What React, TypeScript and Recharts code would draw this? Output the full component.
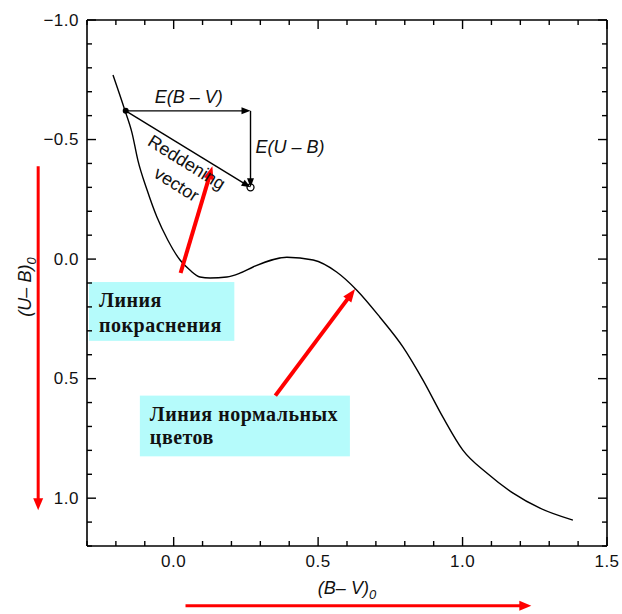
import React from "react";
import { ComposedChart, Line, XAxis, YAxis, ReferenceLine, ReferenceArea, ReferenceDot } from "recharts";

// normal colour line, (B-V)0 vs (U-B)0
const curveBV = [-0.21, -0.169, -0.144, -0.124, -0.092, -0.058, -0.02, 0.022, 0.056, 0.091, 0.126, 0.184, 0.229, 0.275, 0.392, 0.483, 0.564, 0.634, 0.714, 0.794, 0.863, 0.932, 1.001, 1.084, 1.175, 1.268, 1.382];
const curveUB = [-0.77, -0.623, -0.527, -0.414, -0.289, -0.176, -0.079, 0.004, 0.046, 0.075, 0.079, 0.075, 0.059, 0.033, -0.008, 0.004, 0.054, 0.13, 0.243, 0.368, 0.506, 0.661, 0.799, 0.895, 0.979, 1.042, 1.092];

const xTicks = [-0.3, -0.2, -0.1, 0.0, 0.1, 0.2, 0.3, 0.4, 0.5, 0.6, 0.7, 0.8, 0.9, 1.0, 1.1, 1.2, 1.3, 1.4, 1.5];
const xTickLabels = [0.0, 0.5, 1.0, 1.5];
const yTicks = [-1.0, -0.9, -0.8, -0.7, -0.6, -0.5, -0.4, -0.3, -0.2, -0.1, 0.0, 0.1, 0.2, 0.3, 0.4, 0.5, 0.6, 0.7, 0.8, 0.9, 1.0, 1.1, 1.2];
const yTickLabels = [-1.0, -0.5, 0.0, 0.5, 1.0];

// reddening vector: start, corner, end
const vectorBV = [-0.166, 0.266, 0.266];
const vectorUB = [-0.62, -0.62, -0.3];

// red pointers [fromBV, fromUB, toBV, toUB]
const pointerReddening = [0.024, 0.058, 0.134, -0.388];
const pointerNormal = [0.352, 0.571, 0.628, 0.125];
const arrowUB = [-0.469, -0.388, -0.469, 1.05];
const arrowBV = [0.041, 1.45, 1.238, 1.45];

const boxReddening = [-0.293, 0.21, 0.096, 0.342];
const boxNormal = [-0.117, 0.61, 0.571, 0.825];
const reddeningLines = ["Линия", "покраснения"];
const normalLines = ["Линия нормальных", "цветов"];

const data = curveBV.map((bv, i) => ({ bv, ub: curveUB[i] }));

const W = 622;
const H = 614;
const margin = { top: 20, right: 15, bottom: 28, left: 27 };
const plotTop = margin.top;
const plotRight = W - margin.right;

const sans = "'Liberation Sans', Arial, sans-serif";
const serif = "'Liberation Serif', 'Times New Roman', serif";

const isMajor = (v: number) => Math.abs(v * 2 - Math.round(v * 2)) < 1e-6;
const fmt = (v: number) => (v < -1e-9 ? "\u2212" + Math.abs(v).toFixed(1) : Math.abs(v).toFixed(1));

// bottom axis tick, plus the mirrored tick on the top frame
const BottomTick = (p: any) => {
  const v = p.payload.value;
  const len = isMajor(v) ? 9 : 5;
  return (
    <g>
      <line x1={p.x} y1={p.y} x2={p.x} y2={p.y - len} stroke="#000" strokeWidth={1.4} />
      <line x1={p.x} y1={plotTop} x2={p.x} y2={plotTop + len} stroke="#000" strokeWidth={1.4} />
      {xTickLabels.some((l) => Math.abs(l - v) < 1e-6) && (
        <text x={p.x} y={p.y + 15} textAnchor="middle" dominantBaseline="central" fontFamily={sans} fontSize={17} letterSpacing={0.5} fill="#111">
          {fmt(v)}
        </text>
      )}
    </g>
  );
};

// left axis tick, plus the mirrored tick on the right frame
const LeftTick = (p: any) => {
  const v = p.payload.value;
  const len = isMajor(v) ? 9 : 5;
  return (
    <g>
      <line x1={p.x} y1={p.y} x2={p.x + len} y2={p.y} stroke="#000" strokeWidth={1.4} />
      <line x1={plotRight} y1={p.y} x2={plotRight - len} y2={p.y} stroke="#000" strokeWidth={1.4} />
      {yTickLabels.some((l) => Math.abs(l - v) < 1e-6) && (
        <text x={p.x - 8} y={p.y} textAnchor="end" dominantBaseline="central" fontFamily={sans} fontSize={17} letterSpacing={0.5} fill="#111">
          {fmt(v)}
        </text>
      )}
    </g>
  );
};

const arrow = (color: string, width: number, headLen: number, headHalf: number) => (p: any) => {
  const { x1, y1, x2, y2 } = p;
  const dx = x2 - x1;
  const dy = y2 - y1;
  const d = Math.hypot(dx, dy) || 1;
  const ux = dx / d;
  const uy = dy / d;
  const bx = x2 - ux * headLen;
  const by = y2 - uy * headLen;
  const pts = `${x2},${y2} ${bx - uy * headHalf},${by + ux * headHalf} ${bx + uy * headHalf},${by - ux * headHalf}`;
  return (
    <g>
      <line x1={x1} y1={y1} x2={bx + ux} y2={by + uy} stroke={color} strokeWidth={width} />
      <polygon points={pts} fill={color} />
    </g>
  );
};

const textBox = (lines: string[], gap: number) => (p: any) => (
  <g>
    <rect x={p.x} y={p.y} width={p.width} height={p.height} fill="#b5fbfb" />
    {lines.map((t, i) => (
      <text key={i} x={p.x + 10} y={p.y + 25 + i * gap} fontFamily={serif} fontWeight="bold" fontSize={20} letterSpacing={0.5} fill="#111">
        {t}
      </text>
    ))}
  </g>
);

const annot = (text: string, anchor: string, angle = 0, italic = true) => (p: any) => (
  <text
    x={p.cx}
    y={p.cy}
    textAnchor={anchor}
    dominantBaseline="central"
    fontFamily={sans}
    fontSize={18}
    fontStyle={italic ? "italic" : "normal"}
    fill="#111"
    transform={angle ? `rotate(${angle}, ${p.cx}, ${p.cy})` : undefined}
  >
    {text}
  </text>
);

const XLabel = (p: any) => {
  const { x, y, width } = p.viewBox;
  return (
    <text x={x + width / 2} y={y + 42} textAnchor="middle" dominantBaseline="central" fontFamily={sans} fontSize={18} fontStyle="italic" fill="#111">
      (B{"\u2013"} V)<tspan fontSize={13} dy={6}>0</tspan>
    </text>
  );
};

const YLabel = (p: any) => {
  const { x, y, height } = p.viewBox;
  const cx = x - 2;
  const cy = y + height / 2 + 4;
  return (
    <text x={cx} y={cy} textAnchor="middle" dominantBaseline="central" fontFamily={sans} fontSize={18} fontStyle="italic" fill="#111" transform={`rotate(-90, ${cx}, ${cy})`}>
      (U{"\u2013"} B)<tspan fontSize={13} dy={6}>0</tspan>
    </text>
  );
};

export default function App() {
  return (
    <div style={{ position: "absolute", left: 0, top: 0, width: W, height: H, background: "#fff" }}>
      <ComposedChart width={W} height={H} data={data} margin={margin}>
        <XAxis
          dataKey="bv"
          type="number"
          domain={[-0.3, 1.5]}
          allowDataOverflow
          ticks={xTicks}
          interval={0}
          height={40}
          tickLine={false}
          tickSize={0}
          tickMargin={0}
          tick={<BottomTick />}
          axisLine={{ stroke: "#000", strokeWidth: 1.6 }}
          label={{ content: XLabel }}
        />
        <YAxis
          type="number"
          domain={[-1.0, 1.2]}
          reversed
          allowDataOverflow
          ticks={yTicks}
          interval={0}
          width={60}
          tickLine={false}
          tickSize={0}
          tickMargin={0}
          tick={<LeftTick />}
          axisLine={{ stroke: "#000", strokeWidth: 1.6 }}
          label={{ content: YLabel }}
        />

        {/* top and right sides of the frame */}
        <ReferenceLine y={-1.0} stroke="#000" strokeWidth={1.6} ifOverflow="visible" />
        <ReferenceLine x={1.5} stroke="#000" strokeWidth={1.6} ifOverflow="visible" />

        <ReferenceArea
          x1={boxReddening[0]}
          x2={boxReddening[1]}
          y1={boxReddening[2]}
          y2={boxReddening[3]}
          ifOverflow="visible"
          shape={textBox(reddeningLines, 25)}
        />
        <ReferenceArea
          x1={boxNormal[0]}
          x2={boxNormal[1]}
          y1={boxNormal[2]}
          y2={boxNormal[3]}
          ifOverflow="visible"
          shape={textBox(normalLines, 23)}
        />

        <Line data={data} dataKey="ub" type="monotone" dot={false} stroke="#000" strokeWidth={1.4} isAnimationActive={false} />

        <ReferenceLine
          segment={[{ x: vectorBV[0], y: vectorUB[0] }, { x: vectorBV[1], y: vectorUB[1] }]}
          ifOverflow="visible"
          shape={arrow("#000", 1.4, 9, 3.5)}
        />
        <ReferenceLine
          segment={[{ x: vectorBV[1], y: vectorUB[1] }, { x: vectorBV[2], y: vectorUB[2] }]}
          ifOverflow="visible"
          shape={arrow("#000", 1.4, 9, 3.5)}
        />
        <ReferenceLine
          segment={[{ x: vectorBV[0], y: vectorUB[0] }, { x: vectorBV[2], y: vectorUB[2] }]}
          ifOverflow="visible"
          shape={arrow("#000", 1.4, 9, 3.5)}
        />
        <ReferenceDot x={vectorBV[0]} y={vectorUB[0]} r={3} fill="#000" stroke="none" ifOverflow="visible" />
        <ReferenceDot x={vectorBV[2]} y={vectorUB[2]} r={3.5} fill="none" stroke="#000" strokeWidth={1.3} ifOverflow="visible" />

        <ReferenceDot x={0.052} y={-0.68} r={0} ifOverflow="visible" shape={annot("E(B \u2013 V)", "middle")} />
        <ReferenceDot x={0.283} y={-0.467} r={0} ifOverflow="visible" shape={annot("E(U \u2013 B)", "start")} />
        <ReferenceDot x={0.045} y={-0.404} r={0} ifOverflow="visible" shape={annot("Reddening", "middle", 32, false)} />
        <ReferenceDot x={0.01} y={-0.3125} r={0} ifOverflow="visible" shape={annot("vector", "middle", 32, false)} />

        <ReferenceLine
          segment={[{ x: pointerReddening[0], y: pointerReddening[1] }, { x: pointerReddening[2], y: pointerReddening[3] }]}
          ifOverflow="visible"
          shape={arrow("#ff0000", 4, 13, 5)}
        />
        <ReferenceLine
          segment={[{ x: pointerNormal[0], y: pointerNormal[1] }, { x: pointerNormal[2], y: pointerNormal[3] }]}
          ifOverflow="visible"
          shape={arrow("#ff0000", 4, 13, 5)}
        />
        <ReferenceLine
          segment={[{ x: arrowUB[0], y: arrowUB[1] }, { x: arrowUB[2], y: arrowUB[3] }]}
          ifOverflow="visible"
          shape={arrow("#ff0000", 3, 12, 5)}
        />
        <ReferenceLine
          segment={[{ x: arrowBV[0], y: arrowBV[1] }, { x: arrowBV[2], y: arrowBV[3] }]}
          ifOverflow="visible"
          shape={arrow("#ff0000", 3, 12, 5)}
        />
      </ComposedChart>
    </div>
  );
}
